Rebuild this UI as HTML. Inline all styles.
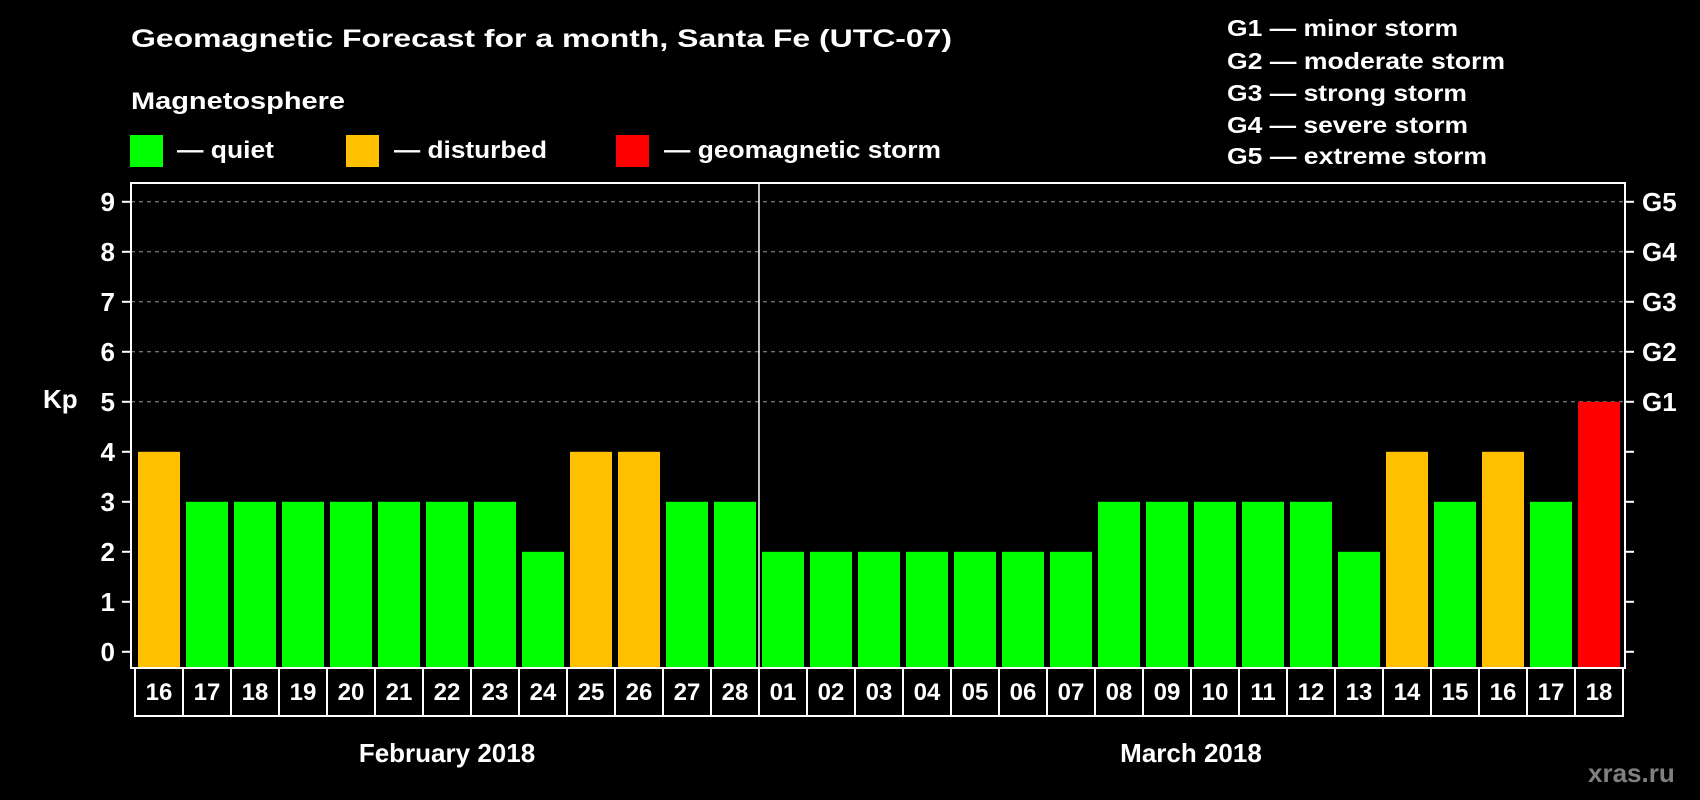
<!DOCTYPE html>
<html><head><meta charset="utf-8"><style>
html,body{margin:0;padding:0;background:#000;}
svg{display:block;font-family:"Liberation Sans",Arial,sans-serif;font-weight:bold;}
</style></head><body>
<svg id="chart" width="1700" height="800" viewBox="0 0 1700 800" xmlns="http://www.w3.org/2000/svg">
<rect width="1700" height="800" fill="#000"/>
<text x="131" y="47" fill="#fff" font-size="25" textLength="821" lengthAdjust="spacingAndGlyphs">Geomagnetic Forecast for a month, Santa Fe (UTC-07)</text>
<text x="131" y="109" fill="#fff" font-size="24" textLength="214" lengthAdjust="spacingAndGlyphs">Magnetosphere</text>
<g>
<rect x="130" y="135" width="33" height="32" fill="#00ff00"/>
<text x="177" y="158" fill="#fff" font-size="24" textLength="97" lengthAdjust="spacingAndGlyphs">— quiet</text></g>
<g>
<rect x="346" y="135" width="33" height="32" fill="#ffc000"/>
<text x="394" y="158" fill="#fff" font-size="24" textLength="153" lengthAdjust="spacingAndGlyphs">— disturbed</text></g>
<g>
<rect x="616" y="135" width="33" height="32" fill="#ff0000"/>
<text x="664" y="158" fill="#fff" font-size="24" textLength="277" lengthAdjust="spacingAndGlyphs">— geomagnetic storm</text></g>
<g fill="#fff" font-size="23">
<text x="1227" y="36" textLength="231" lengthAdjust="spacingAndGlyphs">G1 — minor storm</text>
<text x="1227" y="69" textLength="278" lengthAdjust="spacingAndGlyphs">G2 — moderate storm</text>
<text x="1227" y="101" textLength="240" lengthAdjust="spacingAndGlyphs">G3 — strong storm</text>
<text x="1227" y="133" textLength="241" lengthAdjust="spacingAndGlyphs">G4 — severe storm</text>
<text x="1227" y="164" textLength="260" lengthAdjust="spacingAndGlyphs">G5 — extreme storm</text>
</g>
<text x="43" y="408" fill="#fff" font-size="26">Kp</text>
<text x="1588" y="782" fill="#808080" font-size="26">xras.ru</text>
<g id="plot"></g>
</svg>
<script>
const days = ["16","17","18","19","20","21","22","23","24","25","26","27","28","01","02","03","04","05","06","07","08","09","10","11","12","13","14","15","16","17","18"];
const kp = [4,3,3,3,3,3,3,3,2,4,4,3,3,2,2,2,2,2,2,2,3,3,3,3,3,2,4,3,4,3,5];
const yTicks = [0,1,2,3,4,5,6,7,8,9];
const gLabels = ["G1","G2","G3","G4","G5"];
const months = ["February 2018","March 2018"];
const monthStarts = [0,13];

const NS="http://www.w3.org/2000/svg";
const g=document.getElementById('plot');
const X0=131,X1=1625,T=183,B=668,Y0=651.8,UNIT=50,CELL0=135,PITCH=48,CB=716;
const y=v=>Y0-v*UNIT;
const xCell=i=>CELL0+i*PITCH;
function mk(tag,attrs){const e=document.createElementNS(NS,tag);for(const k in attrs)e.setAttribute(k,attrs[k]);g.appendChild(e);return e;}
yTicks.forEach(v=>{
  if(v>=5){const l=mk('line',{x1:X0,x2:X1,y1:y(v),y2:y(v),stroke:'#999','stroke-dasharray':'4,4','stroke-width':1});
  
  }
  const t=mk('line',{x1:X0-9,x2:X0,y1:y(v),y2:y(v),stroke:'#fff','stroke-width':2});
  
  
  const t2=mk('line',{x1:X1,x2:X1+9,y1:y(v),y2:y(v),stroke:'#fff','stroke-width':2});
  
  
  const lb=mk('text',{x:115,y:y(v)+9,fill:'#fff','font-size':26,'text-anchor':'end'});
  lb.textContent=v;
  
  
});
gLabels.forEach((s,i)=>{
  const lb=mk('text',{x:1642,y:y(5+i)+9,fill:'#fff','font-size':26});
  lb.textContent=s;
  
  
});
kp.forEach((v,i)=>{
  const c=v>=5?'#ff0000':(v>=4?'#ffc000':'#00ff00');
  const r=mk('rect',{x:xCell(i)+3,y:y(v),width:42,height:B-y(v),fill:c});
  
  
});
const f=mk('rect',{x:X0,y:T,width:X1-X0,height:B-T,fill:'none',stroke:'#fff','stroke-width':2});


const sep=mk('line',{x1:xCell(monthStarts[1]),x2:xCell(monthStarts[1]),y1:T,y2:B,stroke:'#fff','stroke-width':1.5});


days.forEach((d,i)=>{
  const r=mk('rect',{x:xCell(i),y:B,width:PITCH,height:CB-B,fill:'none',stroke:'#fff','stroke-width':2});
  
  
  const t=mk('text',{x:xCell(i)+PITCH/2,y:700,fill:'#fff','font-size':24,'text-anchor':'middle'});
  t.textContent=d;
  
  
});
months.forEach((m,i)=>{
  const s=monthStarts[i],e=i+1<monthStarts.length?monthStarts[i+1]:days.length;
  const t=mk('text',{x:(xCell(s)+xCell(e))/2,y:762,fill:'#fff','font-size':26,'text-anchor':'middle'});
  t.textContent=m;
  
  
});
</script>
</body></html>
